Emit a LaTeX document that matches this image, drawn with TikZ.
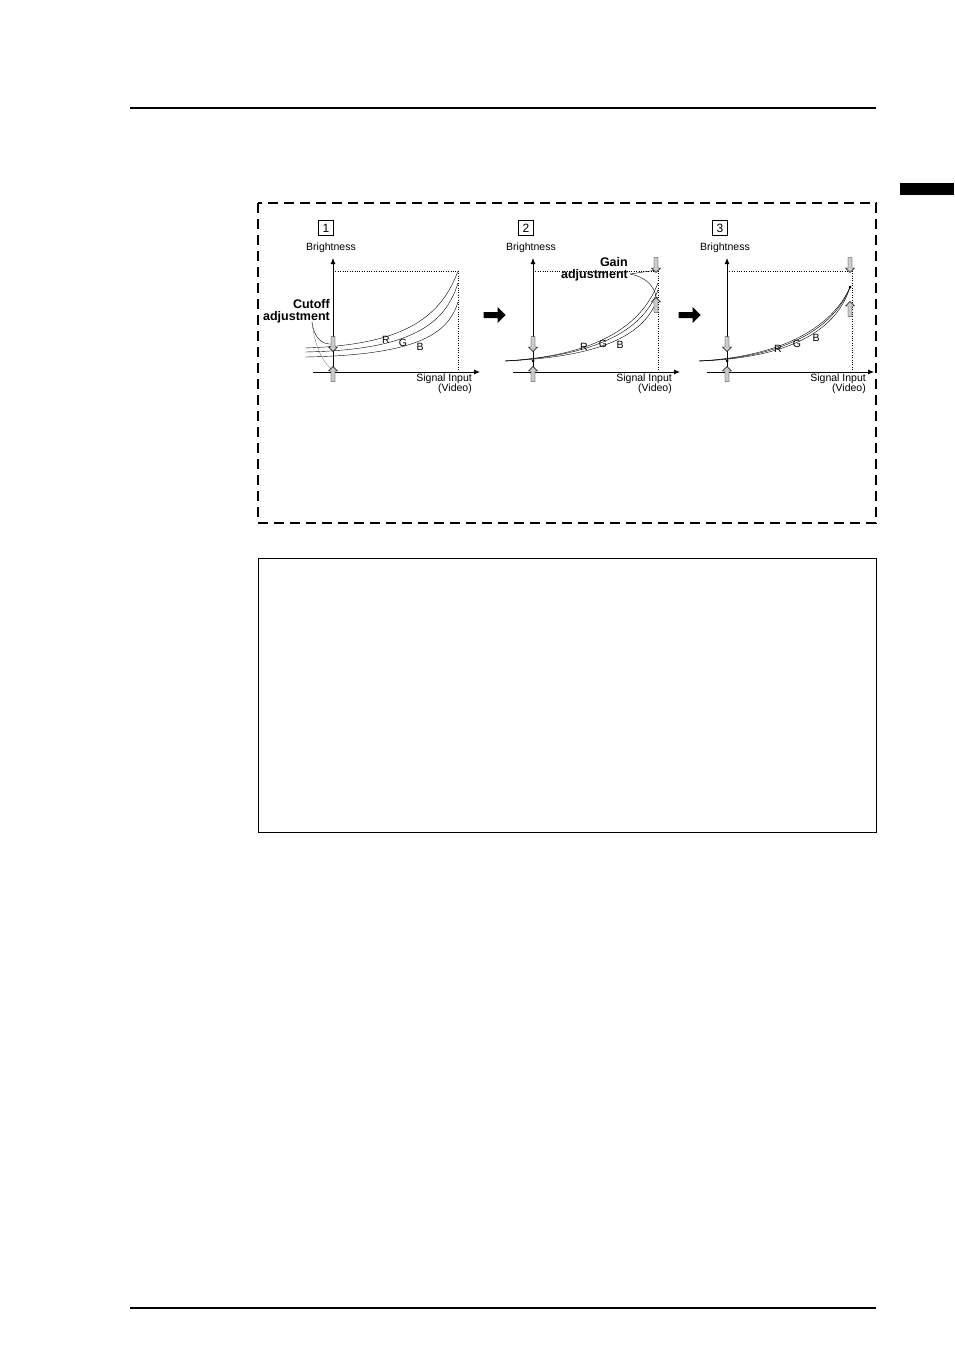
\documentclass[tikz,border=0pt]{standalone}
\usepackage{fontspec}
\setmainfont{Liberation Sans}
\usetikzlibrary{arrows.meta,shapes.arrows}
\begin{document}
\begin{tikzpicture}[x=1pt,y=-1pt]
	\tikzstyle{lbl} = [font=\fontsize{10.5}{10}\selectfont,inner sep=0pt]
	\tikzstyle{bold} = [font=\fontsize{12.5}{12}\selectfont\bfseries,inner sep=0pt,align=right]
	\tikzstyle{num} = [draw,font=\fontsize{12}{12}\selectfont,minimum size=15pt,inner sep=0pt]
	\tikzstyle{down} = [single arrow,draw,fill=gray!40,rotate=-90,minimum height=15pt,minimum width=9pt,single arrow head extend=1.5pt,inner sep=1pt]
	\tikzstyle{up} = [down,rotate=180]
	\tikzstyle{big} = [single arrow,fill=black,minimum height=22pt,minimum width=16pt,single arrow head extend=2pt,inner sep=1pt]
	\tikzstyle{axis} = [-{Latex[length=6pt,width=5pt]},thick]
	\useasboundingbox (0,0) rectangle (954,1352);
	% page rules and tab
	\draw[line width=1.5pt] (130,108) -- (876,108);
	\draw[line width=1.2pt] (130,1308) -- (876,1308);
	\fill (900,183) rectangle (954,195);
	% frames
	\draw[dashed,line width=1.2pt,dash pattern=on 10pt off 6pt] (258,203) rectangle (876,523);
	\draw (258,558) rectangle (876,832);
	% axes of the three panels
	\foreach \i/\x in {1/333,2/533,3/727}{
		\node[num] (n\i) at (\x-7,228) {\i};
		\node[lbl] (br\i) at (\x-2,248) {Brightness};
		\draw[axis] (\x,372) -- (\x,258);
		\draw[axis] (\x-20,372) -- (\x+147,372);
		\node[lbl,align=right,anchor=north east] (sig\i) at (\x+139,374) {Signal Input\\(Video)};
		\draw[dotted] (\x,271) -- (\x+125,271) -- (\x+125,372);
	}
	% panel 1
	\draw (305,348) .. controls (400,345) and (440,320) .. (458,271);
	\draw (305,352) .. controls (410,350) and (445,325) .. (458,283);
	\draw (305,357) .. controls (415,355) and (448,335) .. (458,302);
	\node[lbl] (r1) at (386,340) {R};
	\node[lbl] (g1) at (403,343) {G};
	\node[lbl] (b1) at (420,347) {B};
	\node[bold,anchor=east] (cut) at (330,311) {Cutoff\\adjustment};
	\draw[thin] (312,322) .. controls (314,338) and (322,345) .. (333,344);
	\draw[thin,gray] (312,322) .. controls (315,350) and (325,365) .. (333,370);
	\node[down] (d1) at (333,343) {};
	\node[up] (u1) at (333,375) {};
	\node[big] (a1) at (493,315) {};
	% panel 2
	\draw (505,361) .. controls (590,356) and (640,330) .. (658,283);
	\draw (505,361) .. controls (592,356) and (642,333) .. (658,290);
	\draw (505,361) .. controls (595,357) and (645,338) .. (658,297);
	\fill (533,361) circle (1.5pt);
	\node[lbl] (r2) at (584,347) {R};
	\node[lbl] (g2) at (603,344) {G};
	\node[lbl] (b2) at (620,345) {B};
	\node[bold,anchor=east] (gain) at (628,269) {Gain\\adjustment};
	\draw[thin] (630,274) -- (657,270);
	\draw[thin] (630,274) .. controls (650,278) and (656,290) .. (657,302);
	\node[down] (d2) at (533,343) {};
	\node[up] (u2) at (533,375) {};
	\node[down] (d3) at (656,264) {};
	\node[up] (u3) at (656,306) {};
	\node[big] (a2) at (688,315) {};
	% panel 3
	\draw (699,361) .. controls (790,356) and (835,322) .. (850,287);
	\draw (699,361) .. controls (792,357) and (836,324) .. (850,287);
	\draw (699,361) .. controls (795,358) and (838,327) .. (850,287);
	\fill (727,361) circle (1.5pt);
	\fill (850,287) circle (1.5pt);
	\node[lbl] (r3) at (778,349) {R};
	\node[lbl] (g3) at (797,344) {G};
	\node[lbl] (b3) at (816,338) {B};
	\node[down] (d4) at (727,343) {};
	\node[up] (u4) at (727,375) {};
	\node[down] (d5) at (850,264) {};
	\node[up] (u5) at (850,310) {};
\end{tikzpicture}
\end{document}
